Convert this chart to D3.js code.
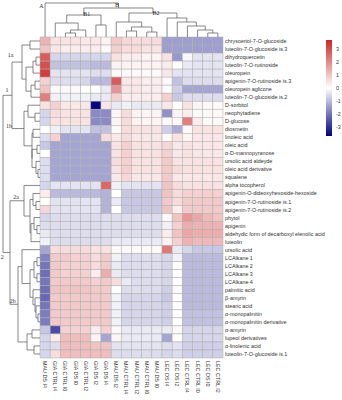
<!DOCTYPE html>
<html><head><meta charset="utf-8">
<script src="https://cdn.jsdelivr.net/npm/d3@7"></script>
<style>body{margin:0;background:#fff}svg{display:block}</style>
</head><body>
<svg id="c" width="342" height="400"></svg>
<script>
// ---------- DATA ----------
const colLabels = ["MAU DS I4","GIA CTRL I4","GIA CTRL I0","GIA DS I0","GIA CTRL I2","GIA DS I2","GIA DS I4",
  "MAU DS I2","MAU CTRL I4","MAU CTRL I2","MAU CTRL I0","MAU DS I0",
  "LEC DS I4","LEC DS I2","LEC CTRL I4","LEC CTRL I0","LEC DS I0","LEC CTRL I2"];
const rowLabels = ["chrysoeriol-7-O-glucoside","luteolin-7-O-glucoside is.3","dihydroquercetin","luteolin-7-O-rutinoside",
  "oleuropein","apigenin-7-O-rutinoside is.3","oleuropein aglicone","luteolin-7-O-glucoside is.2","D-sorbitol",
  "neophytadiene","D-glucose","diosmetin","linoleic acid","oleic acid","α-D-mannopyranose","ursolic acid aldeyde",
  "oleic acid derivative","squalene","alpha tocopherol","apigenin-O-dideoxyhexoside-hexoside",
  "apigenin-7-O-rutinoside is.1","apigenin-7-O-rutinoside is.2","phytol","apigenin",
  "aldehydic form of decarboxyl elenolic acid","luteolin","ursolic acid","LCAlkane 1","LCAlkane 2","LCAlkane 3",
  "LCAlkane 4","palmitic acid","β-amyrin","stearic acid","α-monopalmitin","α-monopalmitin derivative","α-amyrin",
  "lupeol derivatives","α-linolenic acid","luteolin-7-O-glucoside is.1"];
const values = [
 [1.3, 0.5,0.5,0.5,0.4,0.4,0.2, 0.9,0.7,0.6,0.6,0.6, -1.4,-1.4,-1.4,-1.4,-1.4,-1.4],
 [1.0, 0.4,0.3,0.3,0.3,0.3,0.1, 0.8,0.6,0.6,0.5,0.5, -1.4,-1.4,-1.4,-1.4,-1.4,-1.4],
 [2.8, -0.6,-0.6,-0.6,-0.6,-0.6,-0.6, 0.5,0.3,0.3,0.2,0.2, 0.5,-1.5,-0.1,-0.4,-0.4,-0.4],
 [3.0, -0.9,-0.9,-0.9,-0.9,-1.0,-1.0, 0.2,0.2,0.2,0.2,0.2, 0.3,0.0,-0.3,-0.4,-0.4,-0.4],
 [3.3, -0.4,-0.4,-0.4,-0.4,-0.5,-0.5, 0.1,0.1,0.1,0.1,0.1, 0.4,-0.4,-0.4,-0.4,-0.4,-0.4],
 [0.8, -0.5,-0.5,-0.5,-0.6,-1.0,-1.0, 2.8,0.4,0.4,0.3,0.3, 0.1,-0.9,-0.5,-0.5,-0.5,-0.5],
 [1.0, 0.1,0.1,0.1,0.0,0.0,-0.3, 1.8,0.4,0.4,0.3,0.3, 0.1,-0.7,-1.3,-1.3,-1.3,-1.3],
 [2.2, -0.2,-0.2,-0.2,-0.2,-0.3,-0.3, 0.8,0.3,0.3,0.3,0.3, 0.8,-0.8,-0.5,-0.5,-0.5,-0.5],
 [0.5, 0.8,0.4,0.4,0.4,-3.6,0.4, -0.3,-0.2,-0.3,-0.3,-0.3, 0.4,0.0,0.5,0.2,0.1,0.1],
 [-0.6, 0.6,0.5,0.5,0.5,-1.7,-1.7, 0.2,0.6,0.2,0.2,0.2, -1.6,0.2,0.3,0.1,0.1,0.1],
 [-0.6, 0.5,0.5,0.5,0.5,-1.7,-1.7, 0.2,0.6,0.2,0.2,0.2, 0.1,0.1,2.2,0.3,0.1,0.1],
 [0.0, -0.2,-0.4,-0.4,-0.4,-0.9,-0.9, 0.1,0.6,0.5,0.5,0.5, -0.7,-1.2,0.1,0.5,0.5,0.5],
 [-0.5, 0.8,-1.3,-1.3,-1.3,-1.3,0.6, 0.4,0.6,0.4,0.4,0.4, 0.1,0.5,0.2,0.4,0.4,0.4],
 [-0.8, -1.3,-1.3,-1.3,-1.3,-1.3,-1.3, 0.5,0.8,0.5,0.5,0.5, 0.7,0.4,0.5,0.4,0.4,0.4],
 [0.0, -1.3,-1.3,-1.3,-1.3,-1.3,-1.3, 0.5,0.8,0.5,0.5,0.5, 0.8,0.4,0.5,0.4,0.4,0.4],
 [-0.5, -1.3,-1.3,-1.3,-1.3,-1.3,-1.3, 0.6,0.8,0.5,0.5,0.5, 0.9,0.5,0.5,0.5,0.5,0.5],
 [-0.5, -1.3,-1.3,-1.3,-1.3,-1.3,-1.3, 0.5,0.8,0.5,0.5,0.5, 0.9,0.6,0.5,0.5,0.5,0.5],
 [-0.5, -1.3,-1.3,-1.3,-1.3,-1.3,-1.3, 0.4,0.7,0.4,0.4,0.4, 0.9,0.4,0.4,0.4,0.4,0.4],
 [-0.6, -0.4,-0.4,-0.4,-0.4,-0.4,2.6, -0.2,-0.4,-0.4,-0.4,-0.4, 1.0,0.6,0.5,0.5,0.5,0.5],
 [0.3, -1.0,-1.0,-1.0,-1.0,-1.0,-1.1, 0.0,-0.8,-0.8,-0.8,-0.8, 1.0,0.6,0.8,0.8,0.8,0.8],
 [0.0, -0.4,-0.4,-0.4,-0.4,-0.4,-1.1, -0.3,-0.8,-0.8,-0.8,-0.8, 0.9,0.6,0.9,0.9,0.9,0.9],
 [0.7, -0.4,-0.4,-0.4,-0.4,-0.4,-1.1, 0.0,-0.8,-0.8,-0.8,-0.8, 1.0,0.3,0.9,0.9,0.9,0.9],
 [-0.6, -0.5,-0.5,-0.5,-0.5,-0.5,-0.5, -0.5,-0.5,-0.5,-0.5,-0.5, 0.1,1.0,1.8,1.5,1.2,1.0],
 [-0.5, -0.5,-0.5,-0.5,-0.5,-0.5,-0.5, -0.5,-0.5,-0.5,-0.5,-0.5, -0.2,0.8,1.4,1.3,1.3,1.3],
 [-0.3, -0.5,-0.5,-0.5,-0.5,-0.5,-0.5, -0.5,-0.5,-0.5,-0.5,-0.5, 0.3,1.0,1.5,1.4,1.4,1.4],
 [-0.2, -0.5,-0.5,-0.5,-0.5,-0.5,-0.5, -0.3,-0.3,-0.3,-0.3,-0.3, 0.2,0.8,1.3,1.2,1.2,1.2],
 [-1.3, 0.6,0.6,0.6,0.6,0.5,0.5, 0.1,0.1,0.1,0.1,0.1, 2.3,-0.3,-0.6,-0.8,-0.8,-0.8],
 [-1.8, 0.9,0.9,0.8,0.8,0.6,0.9, -0.2,-0.5,-0.5,-0.5,-0.5, -0.6,-0.2,-1.0,-1.0,-1.0,-1.0],
 [-2.0, 0.9,0.8,0.8,0.8,0.6,0.9, -0.3,-0.5,-0.5,-0.5,-0.5, -0.6,0.0,-1.0,-1.0,-1.0,-1.0],
 [-2.1, 0.9,0.8,0.8,0.8,0.3,1.4, -0.3,-0.5,-0.5,-0.5,-0.5, -0.6,0.0,-1.0,-1.0,-1.0,-1.0],
 [-2.0, 0.9,0.9,0.9,0.9,0.8,0.9, 0.6,-0.3,-0.5,-0.5,-0.5, -0.6,0.0,-1.0,-1.0,-1.0,-1.0],
 [-2.1, 1.0,1.0,1.0,1.0,0.9,0.9, 0.0,-0.5,-0.5,-0.5,-0.5, -0.7,0.1,-1.0,-1.0,-1.0,-1.0],
 [-2.2, 0.9,0.9,0.9,0.9,0.9,0.9, -0.2,-0.6,-0.6,-0.6,-0.6, -0.8,0.0,-1.0,-1.0,-1.0,-1.0],
 [-2.0, 0.9,0.9,0.9,0.9,0.9,0.9, -0.2,-0.6,-0.6,-0.6,-0.6, -0.7,0.0,-1.0,-1.0,-1.0,-1.0],
 [-1.9, 0.9,0.9,0.9,0.9,0.9,0.9, -0.2,-0.6,-0.6,-0.6,-0.6, -0.7,0.0,-0.9,-0.9,-0.9,-0.9],
 [-1.9, 0.9,0.9,0.9,0.9,0.9,0.9, -0.2,-0.6,-0.6,-0.6,-0.6, -0.7,0.0,-0.9,-0.9,-0.9,-0.9],
 [-0.8, -2.6,0.8,0.8,0.8,0.3,0.8, 0.1,-0.3,-0.3,-0.3,-0.3, -0.3,0.1,-0.6,-0.6,-0.6,-0.6],
 [-0.6, 0.3,1.1,1.1,1.1,0.2,-1.3, 0.2,-0.3,-0.3,-0.3,-0.3, -1.3,0.0,-0.6,-0.6,-0.6,-0.6],
 [-0.6, -0.5,1.1,1.1,1.1,1.0,1.0, -0.4,-0.4,-0.4,-0.4,-0.4, -0.5,-0.4,-0.7,-0.7,-0.7,-0.7],
 [-0.6, 0.6,1.1,1.1,1.1,1.1,1.1, -0.5,-0.5,-0.5,-0.5,-0.5, -0.6,-0.5,-0.7,-0.7,-0.7,-0.7]
];
// dendrograms: [height, left, right, label]; leaves are indices
const rowTree =
 [37,
  [28,
   [18, [10,0,1], [14,[7,[4,2,3],4],[9,[5,5,6],7]], "1a"],
   [16, [12,8,[5,9,10]], [8,[7,11,12],[8,[3,13,14],[4,15,[2,16,17]]]], "1b"],
   "1"],
  [30,
   [16, 18, [10,[7,19,[4,20,21]],[9,[6,22,[3,23,24]],25]], "2a"],
   [22, [18,26,[10,[6,[3,27,28],[3,29,30]],[7,31,[5,32,[4,33,[2,34,35]]]]]], [13,[8,36,37],[6,38,39]], "2b"],
   "2"]
 ];
const colTree =
 [34, [0, "A"],
  [29,
   [22, [14,1,[7,[4,2,3],4]], [12,5,6], "B1"],
   [24, [15,7,[10,[6,8,9],[5,10,11]]], [19,12,[15,13,[11,14,[7,15,[4,16,17]]]]], "B2"],
   "B"]
 ];
const rowClusterOffsets = {"1":[4,-3.5],"1a":[-1.5,-5],"1b":[-3,-1],"2a":[6,-1.5],"2":[-0.7,6],"2b":[2.7,-1]};
const colClusterOffsets = {"A":[-3.6,5],"B":[-1.4,4],"B1":[3,8],"B2":[3,7]};
const legendTicks = [3,2,1,0,-1,-2,-3];
const colorDomain = [-3.7, 0, 3.7];

// ---------- DRAW ----------
const svg = d3.select("#c");
const x = d3.scaleBand().domain(d3.range(colLabels.length)).range([40, 223]);
const y = d3.scaleBand().domain(d3.range(rowLabels.length)).range([37, 358]);
const color = d3.scaleLinear().domain(colorDomain).range(["#000080","#ffffff","#CD2626"]).clamp(true);

const cells = [];
values.forEach((row,i)=>row.forEach((v,j)=>cells.push({i,j,v})));
svg.append("g").selectAll("rect").data(cells).join("rect")
  .attr("x", d=>x(d.j)).attr("y", d=>y(d.i))
  .attr("width", x.bandwidth()).attr("height", y.bandwidth())
  .attr("fill", d=>color(d.v)).attr("stroke","#adadad").attr("stroke-width",0.5);

// row labels
svg.append("g").selectAll("text").data(rowLabels).join("text")
  .attr("x", 225).attr("y", (d,i)=>y(i)+y.bandwidth()/2)
  .attr("dominant-baseline","central")
  .attr("font-family","Liberation Sans, Arial, sans-serif").attr("font-size",5.4).attr("fill","#333")
  .text(d=>d);
// col labels
svg.append("g").selectAll("text").data(colLabels).join("text")
  .attr("transform",(d,j)=>`translate(${x(j)+x.bandwidth()/2},361) rotate(90)`)
  .attr("dominant-baseline","central")
  .attr("font-family","Liberation Sans, Arial, sans-serif").attr("font-size",5.4).attr("fill","#333")
  .text(d=>d);

// dendrogram layout
function walk(node, leafPos, segs, labs){
  if (typeof node === "number") return {pos: leafPos(node), h: 0};
  if (node.length === 2) { const r = walk(node[0], leafPos, segs, labs); r.lab = node[1]; return r; }
  const [h, a, b, lab] = node;
  const A = walk(a, leafPos, segs, labs), B = walk(b, leafPos, segs, labs);
  segs.push({h1:h, h2:h, p1:A.pos, p2:B.pos});
  segs.push({h1:h, h2:A.h, p1:A.pos, p2:A.pos});
  segs.push({h1:h, h2:B.h, p1:B.pos, p2:B.pos});
  [A,B].forEach(c=>{ if (c.lab) labs.push({lab:c.lab, h:h, pos:c.pos}); });
  return {pos:(A.pos+B.pos)/2, h, lab};
}
// row dendrogram
const rh = d3.scaleLinear().domain([0,37]).range([40,3]);
const rSegs=[], rLabs=[];
walk(rowTree, i=>y(i)+y.bandwidth()/2, rSegs, rLabs);
svg.append("g").selectAll("line").data(rSegs).join("line")
  .attr("x1",d=>rh(d.h1)).attr("x2",d=>rh(d.h2)).attr("y1",d=>d.p1).attr("y2",d=>d.p2)
  .attr("stroke","#555").attr("stroke-width",0.7);
svg.append("g").selectAll("text").data(rLabs).join("text")
  .attr("x",d=>rh(d.h)+rowClusterOffsets[d.lab][0]).attr("y",d=>d.pos+rowClusterOffsets[d.lab][1])
  .attr("text-anchor","middle").attr("font-family","Liberation Serif, serif").attr("font-size",6).attr("fill","#333")
  .text(d=>d.lab);
// column dendrogram
const ch = d3.scaleLinear().domain([0,34]).range([37,3]);
const cSegs=[], cLabs=[];
walk(colTree, j=>x(j)+x.bandwidth()/2, cSegs, cLabs);
svg.append("g").selectAll("line").data(cSegs).join("line")
  .attr("y1",d=>ch(d.h1)).attr("y2",d=>ch(d.h2)).attr("x1",d=>d.p1).attr("x2",d=>d.p2)
  .attr("stroke","#555").attr("stroke-width",0.7);
svg.append("g").selectAll("text").data(cLabs).join("text")
  .attr("x",d=>d.pos+colClusterOffsets[d.lab][0]).attr("y",d=>ch(d.h)+colClusterOffsets[d.lab][1])
  .attr("text-anchor","middle").attr("font-family","Liberation Serif, serif").attr("font-size",6).attr("fill","#333")
  .text(d=>d.lab);

// legend
const ly = d3.scaleLinear().domain([colorDomain[0], colorDomain[2]]).range([136, 40]);
const defs = svg.append("defs");
const grad = defs.append("linearGradient").attr("id","lg").attr("x1",0).attr("y1",1).attr("x2",0).attr("y2",0);
d3.range(0,1.0001,0.05).forEach(t=>{
  const v = colorDomain[0] + t*(colorDomain[2]-colorDomain[0]);
  grad.append("stop").attr("offset",t).attr("stop-color",color(v));
});
svg.append("rect").attr("x",326).attr("y",ly(colorDomain[2])).attr("width",6)
  .attr("height",ly(colorDomain[0])-ly(colorDomain[2])).attr("fill","url(#lg)");
svg.append("g").selectAll("text").data(legendTicks).join("text")
  .attr("x",336).attr("y",d=>ly(d)).attr("dominant-baseline","central")
  .attr("font-family","Liberation Sans, Arial, sans-serif").attr("font-size",5.4).attr("fill","#333")
  .text(d=>d);
</script>
</body></html>
